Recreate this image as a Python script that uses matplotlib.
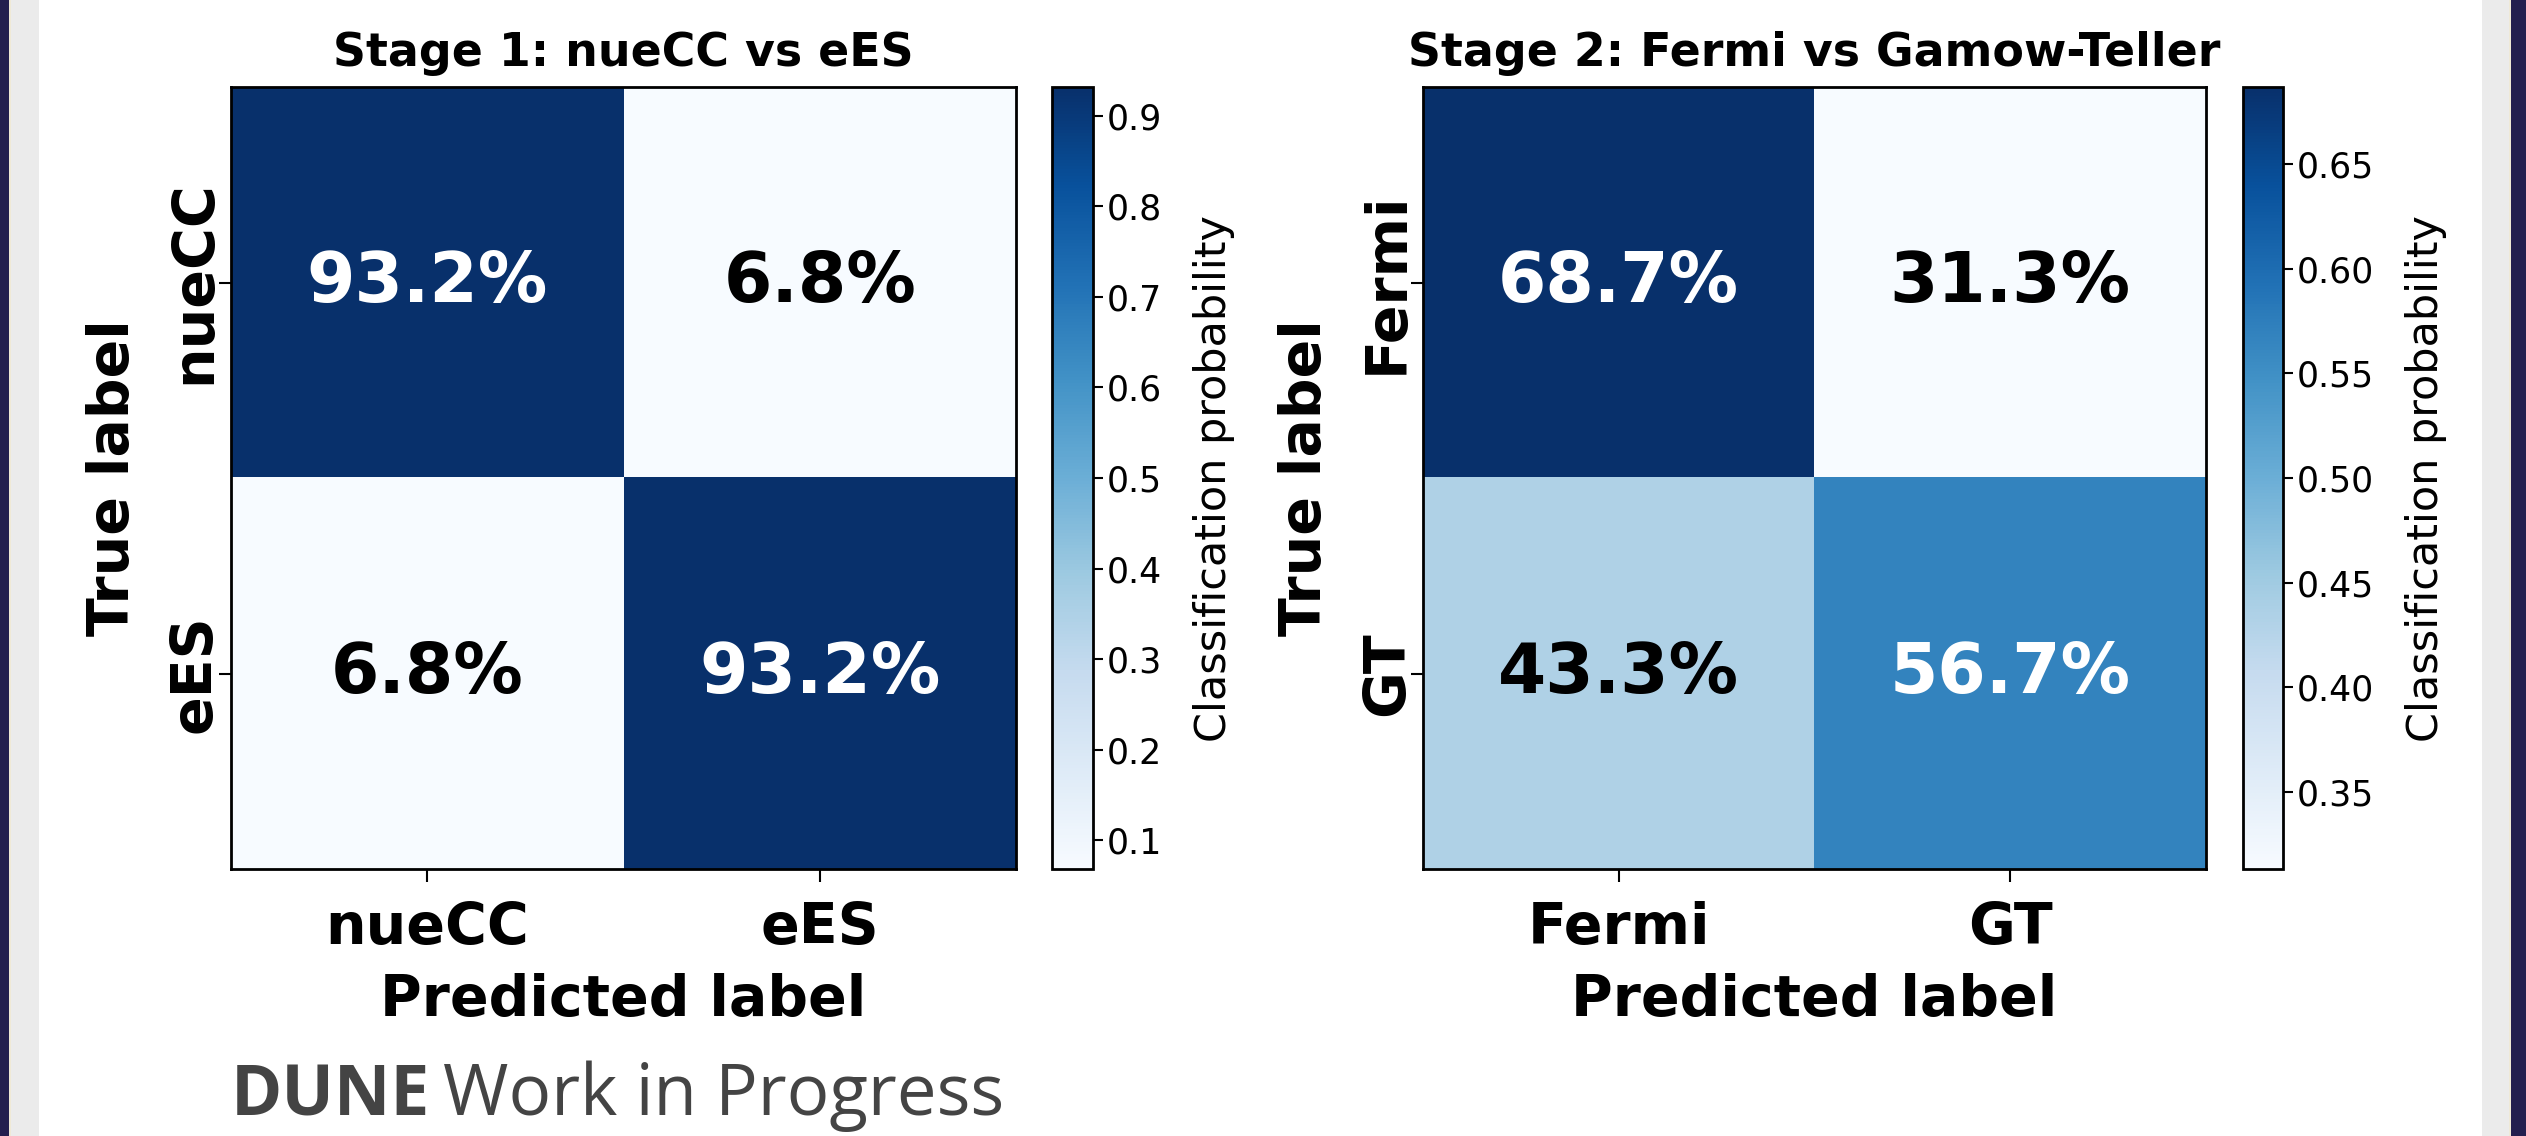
import numpy as np
import matplotlib
matplotlib.use("Agg")
import matplotlib.pyplot as plt
from matplotlib.patches import Rectangle

# confusion matrices (row = true, col = predicted), fractions
stage1_labels = ["nueCC", "eES"]
stage1_cm = np.array([[0.932, 0.068],
                      [0.068, 0.932]])
stage1_ticks = [0.1, 0.2, 0.3, 0.4, 0.5, 0.6, 0.7, 0.8, 0.9]

stage2_labels = ["Fermi", "GT"]
stage2_cm = np.array([[0.687, 0.313],
                      [0.433, 0.567]])
stage2_ticks = [0.35, 0.40, 0.45, 0.50, 0.55, 0.60, 0.65]

titles = ["Stage 1: nueCC vs eES", "Stage 2: Fermi vs Gamow-Teller"]

W, H = 2526, 1136
fig = plt.figure(figsize=(W / 100, H / 100), dpi=100)
fig.patch.set_facecolor("white")

# slide frame: dark side bars and light grey margins
navy = "#231f4f"
grey = "#ebebeb"
for x0, w, c in [(0, 9, navy), (9, 2, "#efe9d6"), (11, 28, grey),
                 (2482, 29, grey), (2509, 2, "#efe9d6"), (2511, 15, navy)]:
    fig.patches.append(Rectangle((x0 / W, 0), w / W, 1, transform=fig.transFigure,
                                 facecolor=c, edgecolor="none", zorder=-10))


def px_axes(x0, y0, x1, y1):
    return fig.add_axes([x0 / W, 1 - y1 / H, (x1 - x0) / W, (y1 - y0) / H])


def draw_cm(ax, cax, cm, labels, title, ticks, ticklabels):
    vmin, vmax = cm.min(), cm.max()
    im = ax.imshow(cm, cmap="Blues", vmin=vmin, vmax=vmax, aspect="auto")
    thresh = (vmin + vmax) / 2
    for i in range(2):
        for j in range(2):
            v = cm[i, j]
            ax.text(j, i, f"{v * 100:.1f}%", ha="center", va="center",
                    fontsize=50, fontweight="bold",
                    color="white" if v > thresh else "black")
    ax.set_xticks(range(2))
    ax.set_yticks(range(2))
    ax.set_xticklabels(labels, fontsize=41, fontweight="bold")
    ax.set_yticklabels(labels, fontsize=41, fontweight="bold",
                       rotation=90, va="center")
    ax.tick_params(length=9, width=1.5)
    ax.tick_params(axis="x", pad=14)
    ax.tick_params(axis="y", pad=-3)
    ax.set_xlabel("Predicted label", fontsize=41, fontweight="bold", labelpad=12)
    ax.set_ylabel("True label", fontsize=41, fontweight="bold", labelpad=19)
    ax.set_title(title, fontsize=33, fontweight="bold", pad=15)
    for s in ax.spines.values():
        s.set_linewidth(2)

    cb = fig.colorbar(im, cax=cax, ticks=ticks)
    cb.ax.set_yticklabels(ticklabels)
    cb.ax.tick_params(labelsize=25, length=7, width=1.5, pad=3)
    cb.outline.set_linewidth(2)
    cb.set_label("Classification probability", fontsize=31, labelpad=22)


ax1 = px_axes(231, 87, 1016, 869)
cax1 = px_axes(1052, 87, 1093, 869)
ax2 = px_axes(1423, 87, 2206, 869)
cax2 = px_axes(2243, 87, 2283, 869)

draw_cm(ax1, cax1, stage1_cm, stage1_labels, titles[0], stage1_ticks,
        [f"{t:.1f}" for t in stage1_ticks])
draw_cm(ax2, cax2, stage2_cm, stage2_labels, titles[1], stage2_ticks,
        [f"{t:.2f}" for t in stage2_ticks])

# collaboration tag under the left panel
dune = fig.text(231 / W, 1 - 1115 / H, "DUNE", fontsize=50, fontweight="bold",
                family="Open Sans", color="#444444", ha="left", va="baseline")
plt.annotate("Work in Progress", xy=(1, 0), xycoords=dune, xytext=(9, 0),
             textcoords="offset points", fontsize=51, family="Open Sans",
             color="#444444", ha="left", va="bottom", annotation_clip=False)

fig.savefig("out.png", dpi=100)
